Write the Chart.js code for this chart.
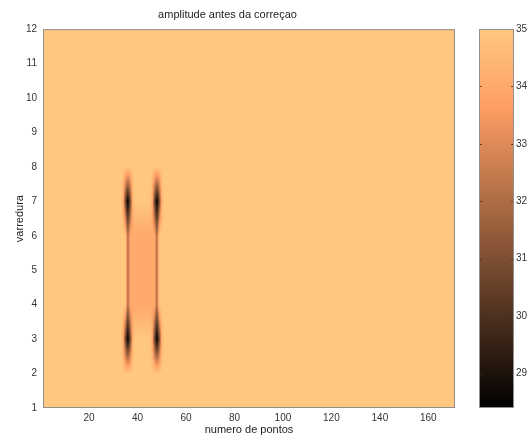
<!DOCTYPE html>
<html>
<head>
<meta charset="utf-8">
<script src="https://cdn.jsdelivr.net/npm/chart.js@4.4.1/dist/chart.umd.min.js"></script>
<style>
  html, body { margin: 0; padding: 0; background: #fff; overflow: hidden; }
  #wrap { position: relative; width: 528px; height: 440px; overflow: hidden; }
  #wrap canvas { position: absolute; left: 0; top: 0; }
</style>
</head>
<body>
<div id="wrap">
  <canvas id="field" width="528" height="440"></canvas>
  <canvas id="scale" width="560" height="440"></canvas>
</div>
<script>
// Sampling grid: points along each scan and number of scans
const pointCount = 171;
const scanCount = 12;
const baseAmplitude = 35;

// Tick labels
const xTickValues = [20, 40, 60, 80, 100, 120, 140, 160];
const yTickValues = [1, 2, 3, 4, 5, 6, 7, 8, 9, 10, 11, 12];
const colorTickValues = [29, 30, 31, 32, 33, 34, 35];
const colorMin = 28.4;
const colorMax = 35;

// Runs of cells that differ from the base amplitude: scan, first point, last point, value
const runScan  = [3,  3,    3,    3,    3,  3,  3,    3,    3,    3,
                  4,  4,  4,    5,  5,  5,    6,  6,  6,
                  7,  7,    7,    7,    7,  7,  7,    7,    7,    7];
const runFrom  = [34, 35,   36,   37,   38, 46, 47,   48,   49,   50,
                  36, 37, 48,   36, 37, 48,   36, 37, 48,
                  34, 35,   36,   37,   38, 46, 47,   48,   49,   50];
const runTo    = [34, 35,   36,   37,   38, 46, 47,   48,   49,   50,
                  36, 47, 48,   36, 47, 48,   36, 47, 48,
                  34, 35,   36,   37,   38, 46, 47,   48,   49,   50];
const runValue = [34.3, 30.8, 28.4, 30.8, 34.3, 34.3, 30.8, 28.4, 30.8, 34.3,
                  32, 34, 32,   32, 34, 32,   32, 34, 32,
                  34.3, 30.8, 28.4, 30.8, 34.3, 34.3, 30.8, 28.4, 30.8, 34.3];

// Amplitude grid [scan][point]
const amplitude = [];
for (let s = 0; s < scanCount; s++) amplitude.push(new Array(pointCount).fill(baseAmplitude));
runScan.forEach((s, k) => {
  for (let p = runFrom[k]; p <= runTo[k]; p++) amplitude[s - 1][p - 1] = runValue[k];
});

function sampleAmplitude(xv, yv) {
  const fx = Math.min(Math.max(xv - 1, 0), pointCount - 1);
  const fy = Math.min(Math.max(yv - 1, 0), scanCount - 1);
  const x0 = Math.min(Math.floor(fx), pointCount - 2), y0 = Math.min(Math.floor(fy), scanCount - 2);
  const tx = fx - x0, ty = fy - y0;
  const a = amplitude[y0][x0], b = amplitude[y0][x0 + 1];
  const c = amplitude[y0 + 1][x0], d = amplitude[y0 + 1][x0 + 1];
  return (a * (1 - tx) + b * tx) * (1 - ty) + (c * (1 - tx) + d * tx) * ty;
}

// Copper colour map
function copper(v) {
  const t = Math.min(Math.max((v - colorMin) / (colorMax - colorMin), 0), 1);
  return [Math.min(1, 1.25 * t) * 255, 0.7812 * t * 255, 0.4975 * t * 255];
}

const FONT = "'Liberation Sans', Arial, sans-serif";
const TEXT = '#333';
const FRAME = '#8f8f8f';

// Paints the interpolated amplitude field through the x/y scales
const fieldPlugin = {
  id: 'amplitudeField',
  beforeDatasetsDraw(chart) {
    const { ctx, chartArea: a, scales: { x, y } } = chart;
    const w = Math.round(a.right - a.left), h = Math.round(a.bottom - a.top);
    const off = document.createElement('canvas');
    off.width = w; off.height = h;
    const octx = off.getContext('2d');
    const img = octx.createImageData(w, h);
    for (let j = 0; j < h; j++) {
      const yv = y.getValueForPixel(a.top + j + 0.5);
      for (let i = 0; i < w; i++) {
        const xv = x.getValueForPixel(a.left + i + 0.5);
        const [r, g, b] = copper(sampleAmplitude(xv, yv));
        const k = (j * w + i) * 4;
        img.data[k] = r; img.data[k + 1] = g; img.data[k + 2] = b; img.data[k + 3] = 255;
      }
    }
    octx.putImageData(img, 0, 0);
    ctx.drawImage(off, a.left, a.top, a.right - a.left, a.bottom - a.top);
  },
  afterDatasetsDraw(chart) {
    const { ctx, chartArea: a } = chart;
    ctx.save();
    ctx.strokeStyle = FRAME;
    ctx.lineWidth = 1;
    ctx.strokeRect(a.left + 0.5, a.top + 0.5, a.right - a.left - 1, a.bottom - a.top - 1);
    ctx.restore();
  }
};

new Chart(document.getElementById('field'), {
  type: 'scatter',
  data: { datasets: [{ data: [], pointRadius: 0 }] },
  plugins: [fieldPlugin],
  options: {
    responsive: false,
    animation: false,
    layout: { padding: { left: 0, right: 73, top: 0, bottom: 0 } },
    plugins: {
      legend: { display: false },
      tooltip: { enabled: false },
      title: {
        display: true,
        text: 'amplitude antes da correçao',
        color: '#222',
        font: { family: FONT, size: 11, weight: 'normal' },
        padding: { top: 8, bottom: 8 }
      }
    },
    scales: {
      x: {
        type: 'linear',
        min: 1,
        max: 171,
        afterBuildTicks: s => { s.ticks = xTickValues.map(v => ({ value: v })); },
        afterFit: s => { s.height = 32; },
        grid: { display: false, drawTicks: false },
        border: { display: false },
        ticks: { color: TEXT, font: { family: FONT, size: 10 }, padding: 4, maxRotation: 0, autoSkip: false },
        title: { display: true, text: 'numero de pontos', color: '#222', font: { family: FONT, size: 11 }, padding: { top: 0, bottom: 3 } }
      },
      y: {
        type: 'linear',
        min: 1,
        max: 12,
        afterBuildTicks: s => { s.ticks = yTickValues.map(v => ({ value: v })); },
        afterFit: s => { s.width = 43; },
        grid: { display: false, drawTicks: false },
        border: { display: false },
        ticks: { color: TEXT, font: { family: FONT, size: 10 }, padding: 6, autoSkip: false },
        title: { display: true, text: 'varredura', color: '#222', font: { family: FONT, size: 11 }, padding: { top: 13, bottom: 0 } }
      }
    }
  }
});

// Inner tick marks on both sides of the colour bar
const barTickPlugin = {
  id: 'barTicks',
  afterDatasetsDraw(chart) {
    const { ctx, chartArea: a, scales: { y } } = chart;
    ctx.save();
    ctx.strokeStyle = 'rgba(70,45,25,0.75)';
    ctx.lineWidth = 1;
    colorTickValues.forEach(v => {
      const py = Math.round(y.getPixelForValue(v)) + 0.5;
      ctx.beginPath();
      ctx.moveTo(a.left, py); ctx.lineTo(a.left + 3, py);
      ctx.moveTo(a.right - 3, py); ctx.lineTo(a.right, py);
      ctx.stroke();
    });
    ctx.strokeStyle = FRAME;
    ctx.strokeRect(a.left + 0.5, a.top + 0.5, a.right - a.left - 1, a.bottom - a.top - 1);
    ctx.restore();
  }
};

new Chart(document.getElementById('scale'), {
  type: 'bar',
  data: {
    labels: ['amplitude'],
    datasets: [{
      data: [[colorMin, colorMax]],
      barPercentage: 1,
      categoryPercentage: 1,
      borderWidth: 0,
      backgroundColor(c) {
        const chart = c.chart;
        if (!chart.chartArea) return 'rgb(255,199,127)';
        const y = chart.scales.y;
        const g = chart.ctx.createLinearGradient(0, y.getPixelForValue(colorMin), 0, y.getPixelForValue(colorMax));
        const stops = [0, 0.8, 1];
        stops.forEach(t => {
          const [r, gg, b] = copper(colorMin + t * (colorMax - colorMin));
          g.addColorStop(t, `rgb(${r},${gg},${b})`);
        });
        return g;
      }
    }]
  },
  plugins: [barTickPlugin],
  options: {
    responsive: false,
    animation: false,
    layout: { padding: { left: 479, right: 0, top: 29, bottom: 32 } },
    plugins: { legend: { display: false }, tooltip: { enabled: false } },
    scales: {
      x: { display: false },
      y: {
        position: 'right',
        min: colorMin,
        max: colorMax,
        afterBuildTicks: s => { s.ticks = colorTickValues.map(v => ({ value: v })); },
        afterFit: s => { s.width = 46; },
        grid: { display: false, drawTicks: false },
        border: { display: false },
        ticks: { color: TEXT, font: { family: FONT, size: 10 }, padding: 2, autoSkip: false }
      }
    }
  }
});
</script>
</body>
</html>
